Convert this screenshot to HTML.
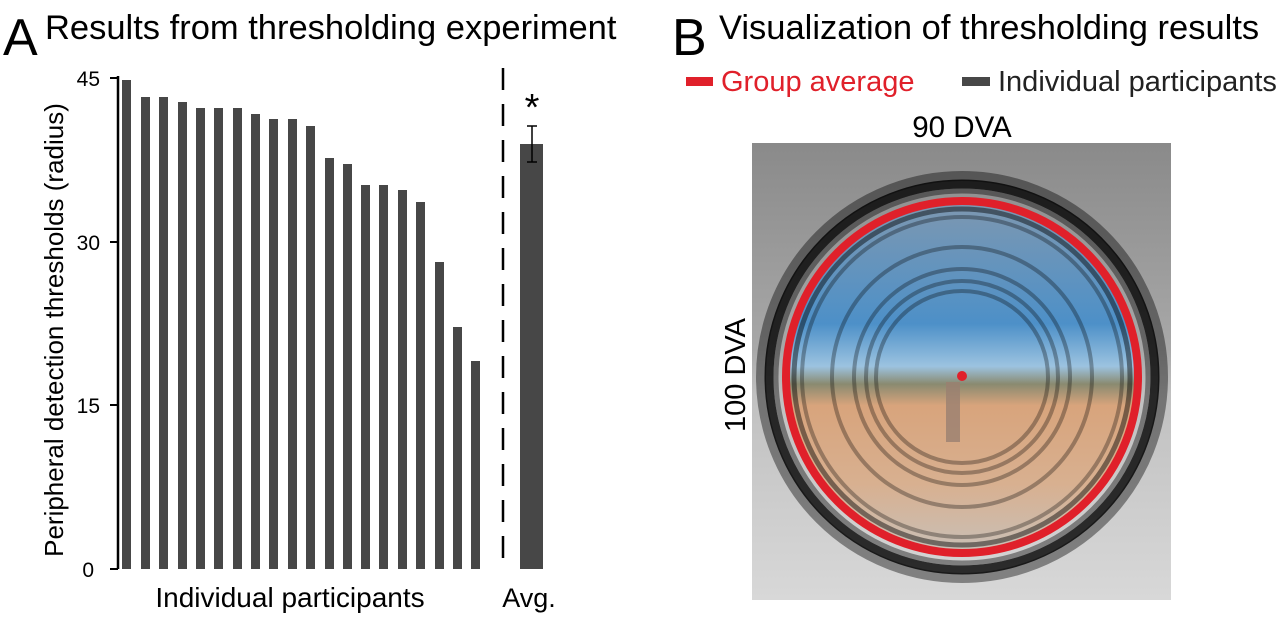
<!DOCTYPE html>
<html><head><meta charset="utf-8"><style>
body{margin:0;background:#fff;width:1280px;height:616px;overflow:hidden;font-family:"Liberation Sans",sans-serif}
</style></head><body>
<svg width="1280" height="616" viewBox="0 0 1280 616" xmlns="http://www.w3.org/2000/svg" font-family="Liberation Sans, sans-serif">
<defs>
<linearGradient id="bg" x1="0" y1="0" x2="0" y2="1">
<stop offset="0" stop-color="#8a8a8a"/><stop offset="0.45" stop-color="#a8a8a8"/><stop offset="0.55" stop-color="#c0c0c0"/><stop offset="1" stop-color="#d8d8d8"/></linearGradient>
<linearGradient id="in" x1="0" y1="0" x2="0" y2="1">
<stop offset="0" stop-color="#7f98b0"/><stop offset="0.35" stop-color="#4d90c8"/><stop offset="0.47" stop-color="#9cc3e0"/><stop offset="0.52" stop-color="#8a8a70"/><stop offset="0.58" stop-color="#d8a47c"/><stop offset="0.8" stop-color="#d8b090"/><stop offset="1" stop-color="#c8c0b8"/></linearGradient>
<clipPath id="cp"><rect x="752" y="143" width="419" height="457"/></clipPath>
</defs>
<text x="3" y="55" font-size="52">A</text>
<text x="45" y="39" font-size="34.5">Results from thresholding experiment</text>
<text x="672" y="55" font-size="52">B</text>
<text x="719" y="39" font-size="34.5">Visualization of thresholding results</text>
<!-- axis -->
<line x1="118" y1="76" x2="118" y2="569" stroke="#000" stroke-width="2.5"/>
<g stroke="#000" stroke-width="2"><line x1="110" y1="78" x2="118" y2="78"/><line x1="110" y1="242" x2="118" y2="242"/><line x1="110" y1="405" x2="118" y2="405"/><line x1="110" y1="569" x2="118" y2="569"/></g>
<g font-size="21" text-anchor="end"><text x="100" y="86">45</text><text x="100" y="250">30</text><text x="100" y="413">15</text><text x="94" y="577">0</text></g>
<text transform="translate(63,330) rotate(-90)" font-size="26" text-anchor="middle">Peripheral detection thresholds (radius)</text>
<g fill="#474747">
<rect x="122" y="80" width="9" height="489"/><rect x="141" y="97" width="9" height="472"/><rect x="159" y="97" width="9" height="472"/><rect x="178" y="102" width="9" height="467"/><rect x="196" y="108" width="9" height="461"/><rect x="214" y="108" width="9" height="461"/><rect x="233" y="108" width="9" height="461"/><rect x="251" y="114" width="9" height="455"/><rect x="269" y="119" width="9" height="450"/><rect x="288" y="119" width="9" height="450"/><rect x="306" y="126" width="9" height="443"/><rect x="325" y="158" width="9" height="411"/><rect x="343" y="164" width="9" height="405"/><rect x="361" y="185" width="9" height="384"/><rect x="379" y="185" width="9" height="384"/><rect x="398" y="190" width="9" height="379"/><rect x="416" y="202" width="9" height="367"/><rect x="435" y="262" width="9" height="307"/><rect x="453" y="327" width="9" height="242"/><rect x="471" y="361" width="9" height="208"/>
<rect x="520" y="144" width="23" height="425"/></g>
<line x1="503" y1="68" x2="503" y2="569" stroke="#000" stroke-width="2.5" stroke-dasharray="22,14"/>
<g stroke="#000" stroke-width="1.5"><line x1="532" y1="126" x2="532" y2="162"/><line x1="527" y1="126" x2="537" y2="126"/><line x1="527" y1="162" x2="537" y2="162"/></g>
<text x="532" y="120" font-size="38" text-anchor="middle">*</text>
<text x="290" y="607" font-size="28" text-anchor="middle">Individual participants</text>
<text x="529" y="607" font-size="27" text-anchor="middle">Avg.</text>
<!-- legend -->
<rect x="686" y="77" width="27" height="9" fill="#e0202a"/>
<text x="721" y="91" font-size="29" fill="#e0202a">Group average</text>
<rect x="962" y="77" width="28" height="9" fill="#474747"/>
<text x="998" y="91" font-size="29" fill="#222">Individual participants</text>
<text x="962" y="137" font-size="29.5" text-anchor="middle">90 DVA</text>
<text transform="translate(745,375) rotate(-90)" font-size="29" text-anchor="middle">100 DVA</text>
<!-- image -->
<g clip-path="url(#cp)">
<rect x="752" y="143" width="419" height="457" fill="url(#bg)"/>
<circle cx="962" cy="377" r="178" fill="url(#in)"/>
<g fill="none">
<circle cx="962" cy="377" r="201" stroke="#000" stroke-opacity="0.4" stroke-width="10"/>
<circle cx="962" cy="377" r="193" stroke="#000" stroke-opacity="0.8" stroke-width="9"/>
<circle cx="962" cy="377" r="186" stroke="#000" stroke-opacity="0.4" stroke-width="5"/>
<circle cx="962" cy="377" r="168" stroke="#000" stroke-opacity="0.45" stroke-width="5"/>
<circle cx="962" cy="377" r="160" stroke="#000" stroke-opacity="0.3" stroke-width="4"/>
<circle cx="962" cy="377" r="130" stroke="#000" stroke-opacity="0.3" stroke-width="4"/>
<circle cx="962" cy="377" r="108" stroke="#000" stroke-opacity="0.3" stroke-width="4"/>
<circle cx="962" cy="377" r="96" stroke="#000" stroke-opacity="0.3" stroke-width="4"/>
<circle cx="962" cy="377" r="86" stroke="#000" stroke-opacity="0.3" stroke-width="4"/>
<circle cx="962" cy="377" r="176" stroke="#e0202a" stroke-width="8"/>
</g>
<circle cx="962" cy="376" r="5" fill="#e0202a"/>
<rect x="946" y="382" width="14" height="60" fill="#9a8070" opacity="0.8"/>
</g>
</svg>
</body></html>
